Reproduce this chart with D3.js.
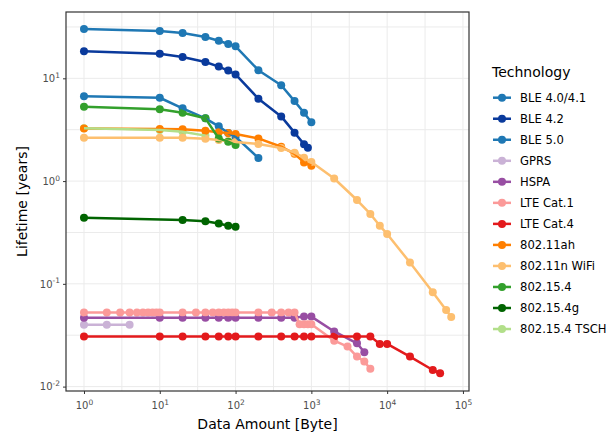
<!DOCTYPE html>
<html>
<head>
<meta charset="utf-8">
<script src="https://cdn.jsdelivr.net/npm/d3@7/dist/d3.min.js"></script>
<style>
  body { margin: 0; background: white; }
  svg { font-family: "DejaVu Sans", sans-serif; }
</style>
</head>
<body>
<div id="vis"></div>
<script>
// Technologies, in legend order
const technologies = ["BLE 4.0/4.1", "BLE 4.2", "BLE 5.0", "GPRS", "HSPA", "LTE Cat.1",
    "LTE Cat.4", "802.11ah", "802.11n WiFi", "802.15.4", "802.15.4g", "802.15.4 TSCH"];
const colors = ["#1f78b4", "#0a3a9c", "#1f78b4", "#cab2d6", "#984ea3", "#fb9a99",
    "#e31a1c", "#ff7f00", "#fdbf6f", "#33a02c", "#006400", "#b2df8a"];

// Data amount [Byte] and lifetime [years] for each technology
const bytesBLE40 = [1, 10, 20, 40, 60, 80, 100, 200, 400, 600, 800, 1000];
const lifeBLE40 = [30.2, 28.8, 27.6, 25.2, 23.2, 21.6, 20.5, 12.0, 8.55, 6.0, 4.63, 3.73];
const bytesBLE42 = [1, 10, 20, 40, 60, 80, 100, 200, 400, 600, 800, 900];
const lifeBLE42 = [18.3, 17.3, 16.1, 14.4, 13.0, 11.9, 10.9, 6.34, 4.26, 2.96, 2.28, 2.11];
const bytesBLE50 = [1, 10, 20, 40, 60, 80, 100, 200];
const lifeBLE50 = [6.68, 6.47, 5.1, 4.08, 3.41, 2.93, 2.69, 1.68];
const bytesGPRS = [1, 2, 4];
const lifeGPRS = [0.040, 0.040, 0.040];
const bytesHSPA = [1, 10, 20, 40, 60, 80, 100, 200, 400, 600, 800, 1000, 2000, 4000, 5000];
const lifeHSPA = [0.0469, 0.0469, 0.0469, 0.0469, 0.0469, 0.0469, 0.0469, 0.0469, 0.0469, 0.0469,
    0.048, 0.048, 0.0344, 0.0264, 0.0216];
const bytesLTE1 = [1, 2, 3, 4, 5, 6, 7, 8, 9, 10, 20, 30, 40, 50, 60, 70, 80, 90, 100,
    200, 300, 400, 500, 600, 700, 800, 900, 1000, 2000, 3000, 4000, 5000, 6000];
const lifeLTE1 = [0.0525, 0.0525, 0.0525, 0.0525, 0.0525, 0.0525, 0.0525, 0.0525, 0.0525, 0.0525,
    0.0525, 0.0525, 0.0525, 0.0525, 0.0525, 0.0525, 0.0525, 0.0525, 0.0525,
    0.0525, 0.0525, 0.0525, 0.0525, 0.0525, 0.0405, 0.0405, 0.0405, 0.0405,
    0.028, 0.0245, 0.0196, 0.0175, 0.0149];
const bytesLTE4 = [1, 10, 20, 40, 60, 80, 100, 200, 400, 600, 800, 1000, 2000, 4000, 6000,
    8000, 10000, 20000, 40000, 50000];
const lifeLTE4 = [0.0308, 0.0308, 0.0308, 0.0308, 0.0308, 0.0308, 0.0308, 0.0308, 0.0308, 0.0308,
    0.0308, 0.0308, 0.0308, 0.0308, 0.0308, 0.026, 0.026, 0.0196, 0.0145, 0.0135];
const bytes11ah = [1, 10, 20, 40, 60, 80, 100, 200, 400, 600, 800, 1000];
const life11ah = [3.24, 3.21, 3.19, 3.09, 2.98, 2.94, 2.87, 2.6, 2.16, 1.84, 1.52, 1.41];
const bytesWiFi = [1, 10, 20, 40, 60, 80, 100, 200, 400, 600, 800, 1000, 2000, 4000, 6000,
    8000, 10000, 20000, 40000, 60000, 70000];
const lifeWiFi = [2.64, 2.64, 2.64, 2.58, 2.51, 2.45, 2.4, 2.3, 2.1, 1.89, 1.69, 1.53, 1.06,
    0.654, 0.479, 0.368, 0.305, 0.161, 0.0828, 0.0557, 0.0476];
const bytes154 = [1, 10, 20, 40, 60, 80, 100];
const life154 = [5.3, 4.99, 4.63, 4.08, 2.6, 2.42, 2.24];
const bytes154g = [1, 20, 40, 60, 80, 100];
const life154g = [0.44, 0.419, 0.406, 0.386, 0.368, 0.36];
const bytesTSCH = [1, 10, 20, 40];
const lifeTSCH = [3.26, 3.14, 3.02, 2.77];

const bytesList = [bytesBLE40, bytesBLE42, bytesBLE50, bytesGPRS, bytesHSPA, bytesLTE1,
    bytesLTE4, bytes11ah, bytesWiFi, bytes154, bytes154g, bytesTSCH];
const lifeList = [lifeBLE40, lifeBLE42, lifeBLE50, lifeGPRS, lifeHSPA, lifeLTE1,
    lifeLTE4, life11ah, lifeWiFi, life154, life154g, lifeTSCH];

const xTicks = [1, 10, 100, 1000, 10000, 100000];
const yTicks = [10, 1, 0.1, 0.01];

// ---------------------------------------------------------------------------
const WIDTH = 610;
const HEIGHT = 433;
const PANEL = { left: 66, top: 12, right: 469, bottom: 391 };

const SVG = d3.select("#vis").append("svg")
    .attr("width", WIDTH)
    .attr("height", HEIGHT);

const series = technologies.map((name, i) => ({
    name: name,
    color: colors[i],
    points: d3.zip(bytesList[i], lifeList[i])
}));

const x = d3.scaleLog()
    .domain([0.579, 120200])
    .range([PANEL.left, PANEL.right]);

const y = d3.scaleLog()
    .domain([0.00906, 44.2])
    .range([PANEL.bottom, PANEL.top]);

// Grid: major lines at decades, minor lines at half decades
const xGrid = d3.range(-0.5, 5.6, 0.5).map(e => Math.pow(10, e)).filter(v => v > x.domain()[0] && v < x.domain()[1]);
const yGrid = d3.range(-2.5, 2.1, 0.5).map(e => Math.pow(10, e)).filter(v => v > y.domain()[0] && v < y.domain()[1]);

SVG.append("rect")
    .attr("x", PANEL.left)
    .attr("y", PANEL.top)
    .attr("width", PANEL.right - PANEL.left)
    .attr("height", PANEL.bottom - PANEL.top)
    .attr("fill", "white");

SVG.append("g").selectAll("line")
    .data(xGrid)
    .enter()
    .append("line")
    .attr("x1", d => x(d)).attr("x2", d => x(d))
    .attr("y1", PANEL.top).attr("y2", PANEL.bottom)
    .attr("stroke", "#ebebeb")
    .attr("stroke-width", 1);

SVG.append("g").selectAll("line")
    .data(yGrid)
    .enter()
    .append("line")
    .attr("y1", d => y(d)).attr("y2", d => y(d))
    .attr("x1", PANEL.left).attr("x2", PANEL.right)
    .attr("stroke", "#ebebeb")
    .attr("stroke-width", 1);

// Points first, then the lines over them (TSCH points sit below the rest)
const pointOrder = [series[11]].concat(series.slice(0, 11));

pointOrder.forEach(s => {
    SVG.append("g").selectAll("circle")
        .data(s.points)
        .enter()
        .append("circle")
        .attr("cx", d => x(d[0]))
        .attr("cy", d => y(d[1]))
        .attr("r", 4)
        .attr("fill", s.color);
});

const linea = d3.line()
    .x(d => x(d[0]))
    .y(d => y(d[1]));

SVG.append("g").selectAll("path")
    .data(series)
    .enter()
    .append("path")
    .attr("d", d => linea(d.points))
    .attr("fill", "none")
    .attr("stroke", d => d.color)
    .attr("stroke-width", 2.5)
    .attr("stroke-linejoin", "round");

// Panel frame
SVG.append("rect")
    .attr("x", PANEL.left)
    .attr("y", PANEL.top)
    .attr("width", PANEL.right - PANEL.left)
    .attr("height", PANEL.bottom - PANEL.top)
    .attr("fill", "none")
    .attr("stroke", "#333333")
    .attr("stroke-width", 1.2);

// Axes with 10^n labels
function superscript(sel) {
    sel.text(null);
    sel.append("tspan").text("10");
    sel.append("tspan")
        .attr("dy", "-0.55em")
        .attr("font-size", "7.5px")
        .text(d => Math.round(Math.log10(d)));
}

const xAxis = SVG.append("g")
    .attr("transform", `translate(0,${PANEL.bottom})`)
    .call(d3.axisBottom(x).tickValues(xTicks).tickSize(3).tickPadding(3));

const yAxis = SVG.append("g")
    .attr("transform", `translate(${PANEL.left},0)`)
    .call(d3.axisLeft(y).tickValues(yTicks).tickSize(3).tickPadding(3));

[xAxis, yAxis].forEach(ax => {
    ax.select(".domain").remove();
    ax.selectAll(".tick line").attr("stroke", "#333333");
    ax.selectAll(".tick text")
        .attr("font-family", "DejaVu Sans")
        .attr("font-size", "10px")
        .attr("fill", "#4d4d4d")
        .call(superscript);
});
xAxis.selectAll(".tick text").attr("dy", "1.2em");

// Axis titles
SVG.append("text")
    .attr("x", (PANEL.left + PANEL.right) / 2)
    .attr("y", 429)
    .attr("text-anchor", "middle")
    .attr("font-size", "14px")
    .attr("fill", "black")
    .text("Data Amount [Byte]");

SVG.append("text")
    .attr("transform", `translate(27,${(PANEL.top + PANEL.bottom) / 2}) rotate(-90)`)
    .attr("text-anchor", "middle")
    .attr("font-size", "14px")
    .attr("fill", "black")
    .text("Lifetime [years]");

// Legend -------------------------------------------------------------------
const leyenda = SVG.append("g")
    .attr("transform", "translate(492, 0)");

leyenda.append("text")
    .attr("x", 0)
    .attr("y", 77)
    .attr("font-size", "14px")
    .attr("fill", "black")
    .text("Technology");

const items = leyenda.selectAll("g.item")
    .data(series)
    .enter()
    .append("g")
    .attr("class", "item")
    .attr("transform", (d, i) => `translate(0,${97.7 + i * 21.03})`);

items.append("line")
    .attr("x1", 1).attr("x2", 19)
    .attr("stroke", d => d.color)
    .attr("stroke-width", 2.5);

items.append("circle")
    .attr("cx", 10)
    .attr("r", 4)
    .attr("fill", d => d.color);

items.append("text")
    .attr("x", 28)
    .attr("dy", "0.36em")
    .attr("font-size", "11.6px")
    .attr("fill", "black")
    .text(d => d.name);
</script>
</body>
</html>
